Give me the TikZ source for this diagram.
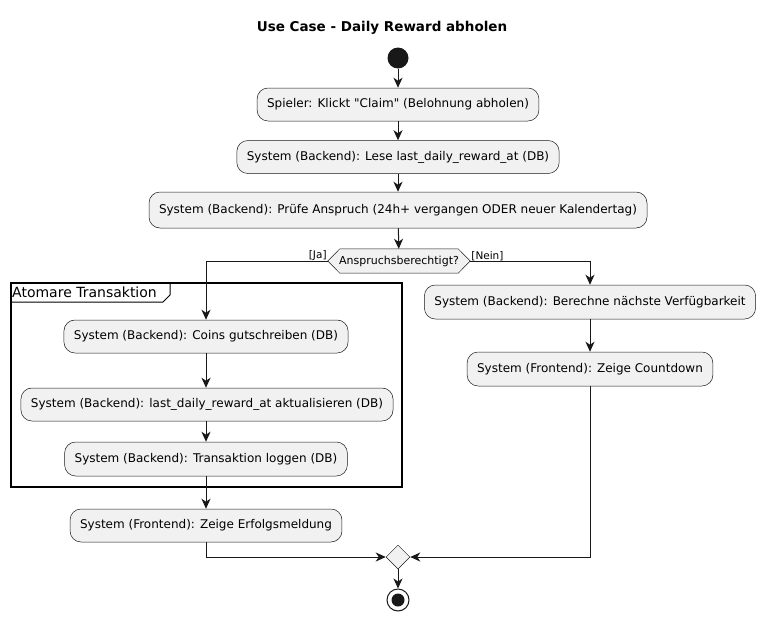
\documentclass[tikz,border=0pt]{standalone}
\usepackage{fontspec}
\setmainfont[Ligatures=TeXOff]{DejaVu Sans}
\usetikzlibrary{arrows.meta,shapes.geometric}
\definecolor{boxfill}{HTML}{F1F1F1}
\definecolor{ink}{HTML}{181818}
\pgfdeclarelayer{bg}
\pgfsetlayers{bg,main}
\begin{document}
\begin{tikzpicture}[x=1pt,y=-1pt,
  act/.style={draw=ink,line width=0.5pt,fill=boxfill,rounded corners=11pt,minimum height=33pt,inner xsep=10pt,font=\fontsize{12}{14}\selectfont},
  conn/.style={draw=ink,line width=1pt,-{Stealth[length=10pt,width=9pt,inset=3pt]}},
  lbl/.style={font=\fontsize{10.5}{12}\selectfont,inner sep=1pt}]
\useasboundingbox (0,0) rectangle (765,624);
\node[font=\bfseries\fontsize{13.5}{16}\selectfont] (title) at (382,28) {Use Case - Daily Reward abholen};
\node[circle,fill=ink,minimum size=21pt,inner sep=0pt] (start) at (398,58) {};
\node[act] (b1) at (398,104.5) {Spieler: Klickt "Claim" (Belohnung abholen)};
\node[act] (b2) at (398,157) {System (Backend): Lese last\_daily\_reward\_at (DB)};
\node[act,minimum height=36pt] (b3) at (398,210) {System (Backend): Prüfe Anspruch (24h+ vergangen ODER neuer Kalendertag)};
\node[minimum width=142pt,minimum height=24pt,inner sep=0pt,font=\fontsize{11}{13}\selectfont] (dec) at (399,261) {Anspruchsberechtigt?};
\begin{pgfonlayer}{bg}
\path[draw=ink,line width=0.5pt,fill=boxfill] (dec.west) -- ([xshift=12pt]dec.north west) -- ([xshift=-12pt]dec.north east) -- (dec.east) -- ([xshift=-12pt]dec.south east) -- ([xshift=12pt]dec.south west) -- cycle;
\end{pgfonlayer}
\node[lbl,anchor=south east] (ja) at ([yshift=-1pt]dec.west) {[Ja]};
\node[lbl,anchor=south west] (nein) at ([yshift=-1pt]dec.east) {[Nein]};
% frame
\coordinate (fr1) at (11,283);
\coordinate (fr2) at (402,487);
\draw[black,line width=1.5pt] (fr1) rectangle (fr2);
\draw[black,line width=1pt] (11,302) -- (163,302) -- (170,295) -- (170,283);
\node[anchor=west,inner sep=0pt,font=\fontsize{14}{16}\selectfont] (frlbl) at (12,292.5) {Atomare Transaktion};
\node[act] (coins) at (206,336.5) {System (Backend): Coins gutschreiben (DB)};
\node[act] (upd) at (207,404.5) {System (Backend): last\_daily\_reward\_at aktualisieren (DB)};
\node[act,minimum height=34pt] (log) at (206,459) {System (Backend): Transaktion loggen (DB)};
\node[act] (succ) at (206,525.5) {System (Frontend): Zeige Erfolgsmeldung};
\node[act,minimum height=34pt] (r1) at (590,302) {System (Backend): Berechne nächste Verfügbarkeit};
\node[act,minimum height=34pt] (r2) at (590,369) {System (Frontend): Zeige Countdown};
\node[diamond,draw=ink,line width=0.5pt,fill=boxfill,minimum size=24pt,inner sep=0pt] (merge) at (398,557) {};
\node[circle,draw=ink,line width=1pt,fill=white,minimum size=22pt,inner sep=0pt] (end) at (398,600) {};
\node[circle,fill=ink,minimum size=13pt,inner sep=0pt] (endin) at (398,600) {};
% connectors
\draw[conn] (start) -- (b1);
\draw[conn] (b1) -- (b2);
\draw[conn] (b2) -- (b3);
\draw[conn] (b3) -- (dec);
\draw[conn] (dec.west) -| (coins.north);
\draw[conn] (dec.east) -| (r1.north);
\draw[conn] (coins) -- (coins.south |- upd.north);
\draw[conn] (upd.south -| log.north) -- (log.north);
\draw[conn] (log) -- (succ);
\draw[conn] (r1) -- (r2);
\draw[conn] (succ.south) |- (merge.west);
\draw[conn] (r2.south) |- (merge.east);
\draw[conn] (merge) -- (end);
\end{tikzpicture}
\end{document}
